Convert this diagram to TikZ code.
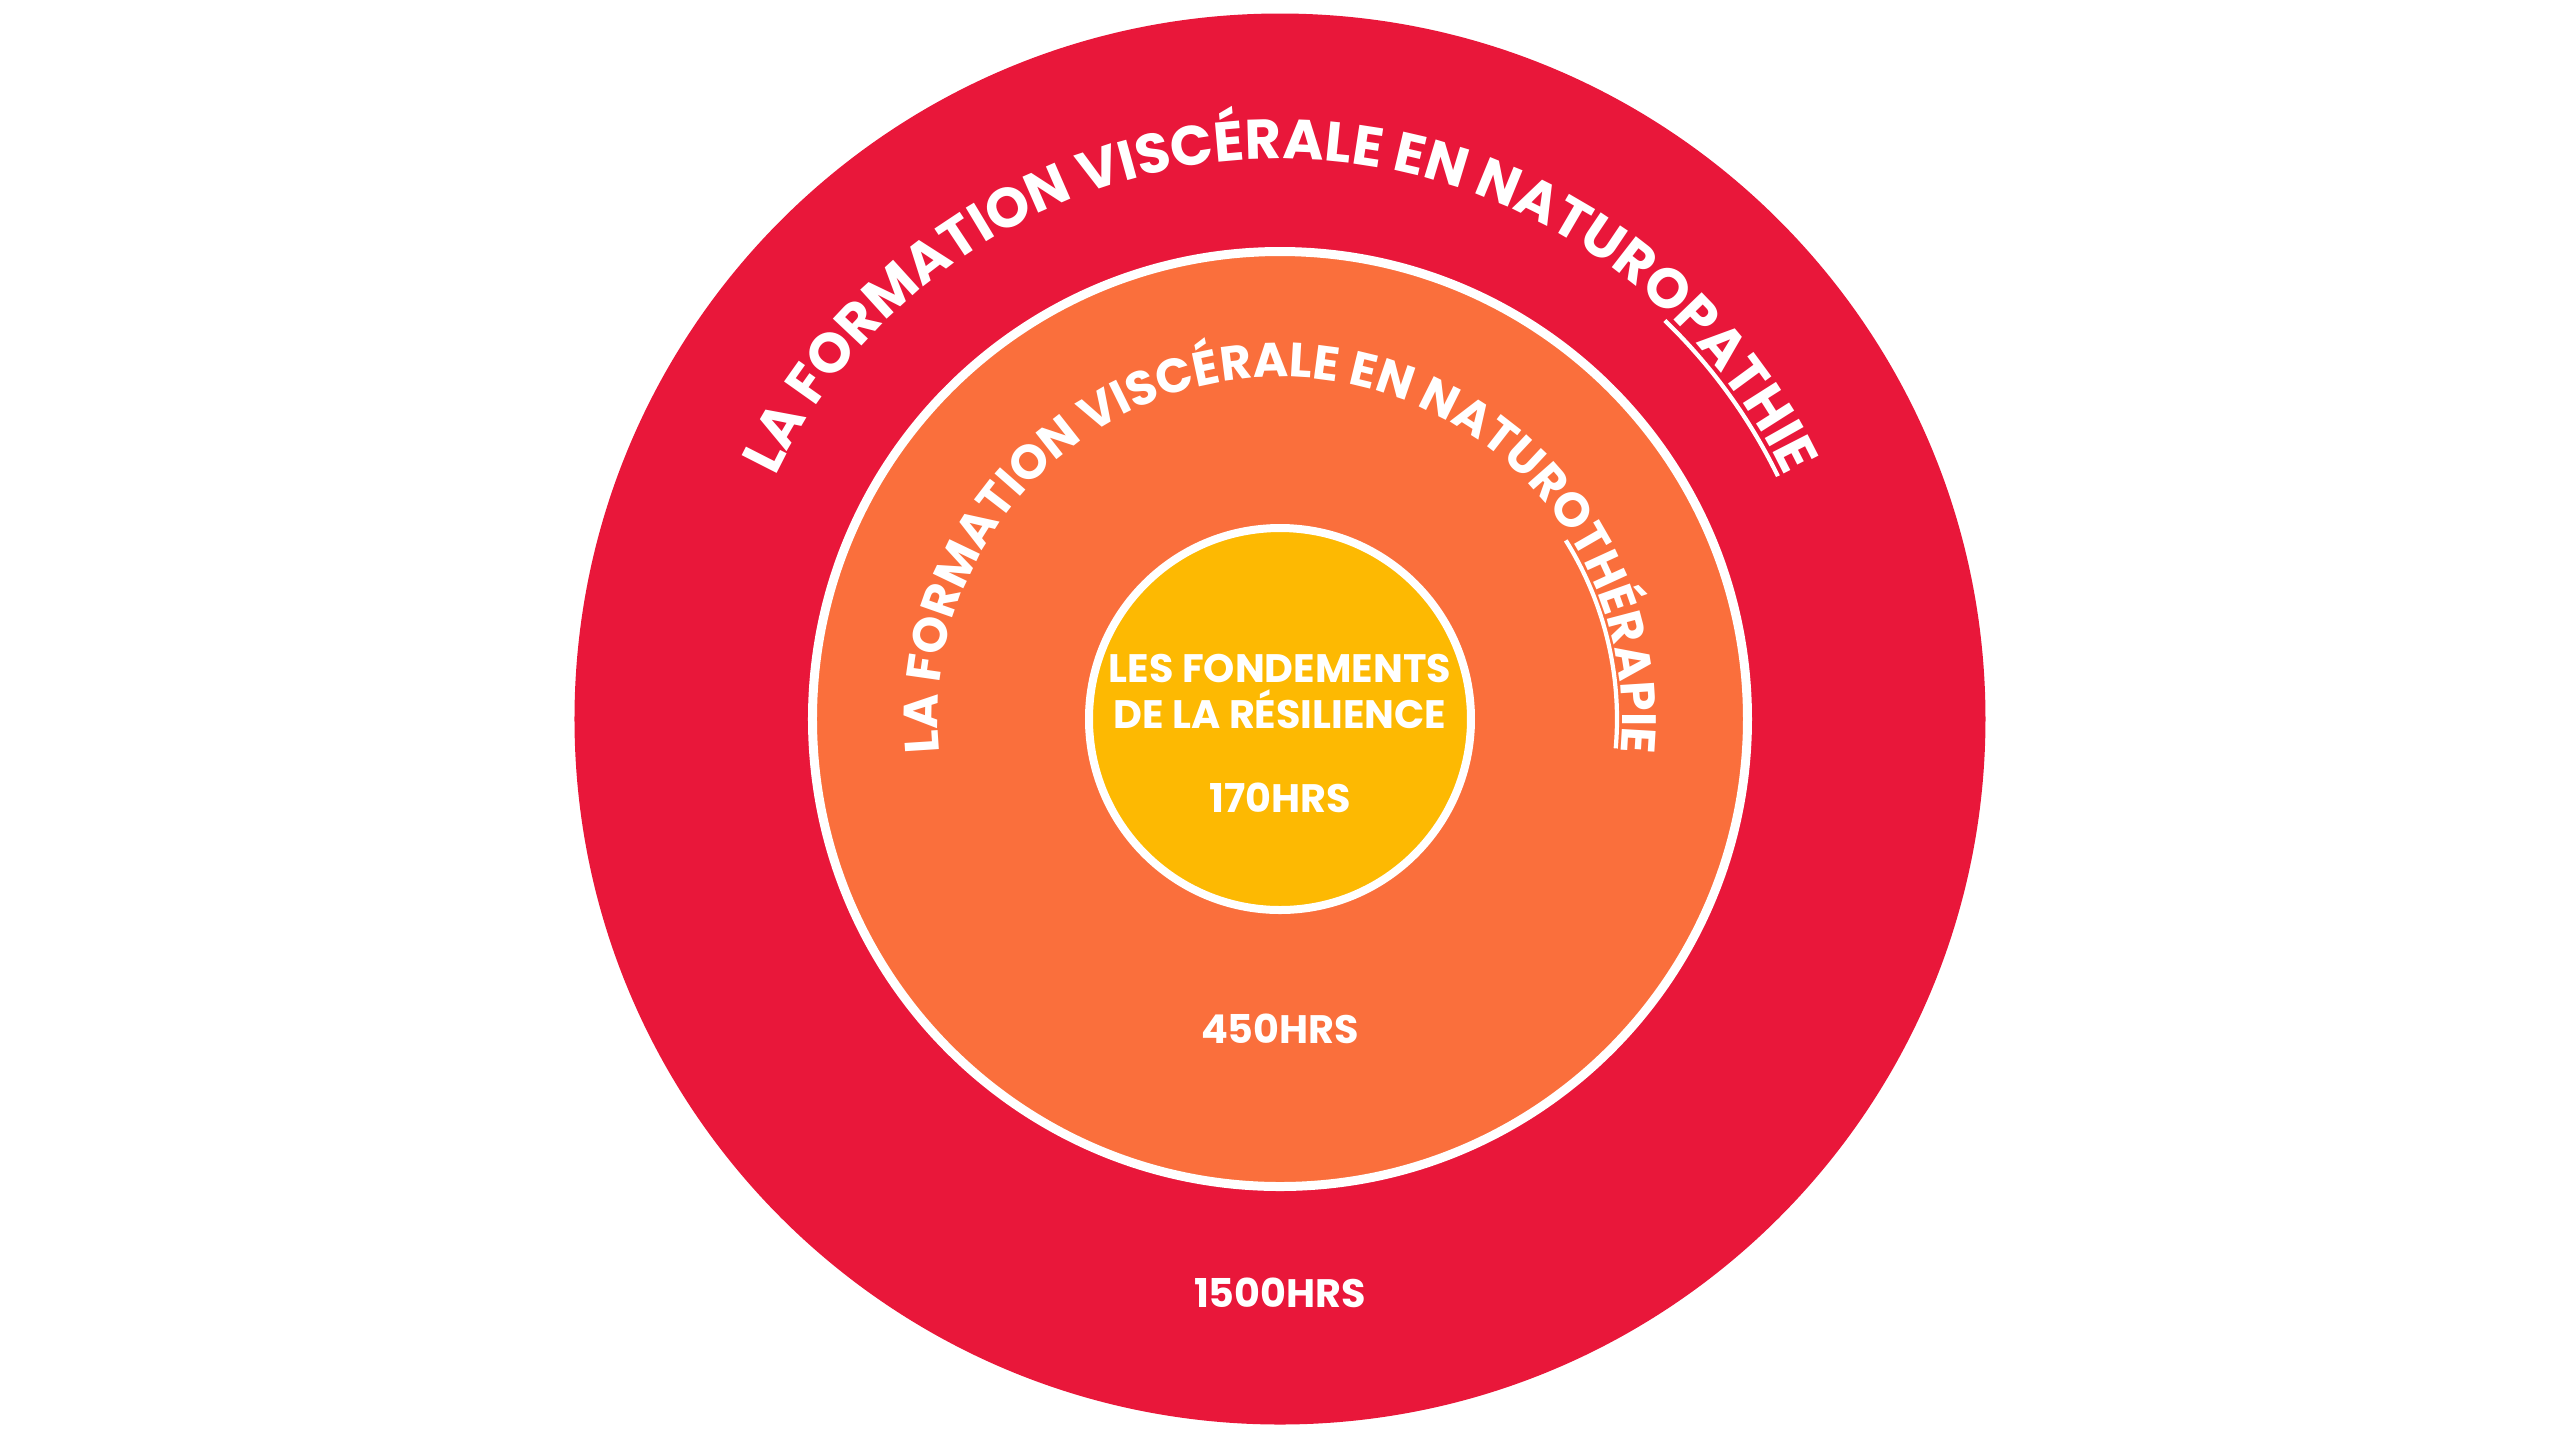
\documentclass[tikz,border=0pt]{standalone}
\usepackage{fontspec}
\setmainfont{Poppins}
\usepackage{tikz}
\usetikzlibrary{decorations.text}

\definecolor{rougeext}{HTML}{E9173A}
\definecolor{orangemid}{HTML}{FA6F3C}
\definecolor{jaunecentre}{HTML}{FDB902}

\begin{document}
\begin{tikzpicture}[
  heures/.style={white, font=\bfseries\fontsize{11.3}{13}\selectfont, anchor=base},
  bord/.style={white, line width=0.09cm}
]

\useasboundingbox (-12.8,-7.20) rectangle (12.8,7.19);

% cercles
\coordinate (C) at (0,0);
\fill[rougeext] (C) circle (7.055);
\draw[bord, fill=orangemid] (C) circle (4.675);
\draw[bord, line width=0.08cm, fill=jaunecentre] (C) circle (1.91);

% texte sur l'anneau rouge
\path[decorate, decoration={text along path, text align=center, text color=white,
  text={|\bfseries\fontsize{15.9}{18}\selectfont|LA FORMATION VISCÉRALE EN NATUROPATHIE}}]
  (200:5.60) arc (200:-20:5.60);
\draw[white, line width=1.2pt] (46:5.54) arc (46:26:5.54);

% texte sur l'anneau orange
\path[decorate, decoration={text along path, text align=center, text color=white,
  text={|\bfseries\fontsize{13.7}{16}\selectfont|LA FORMATION VISCÉRALE EN NATUROTHÉRAPIE}}]
  (200:3.42) arc (200:-20:3.42);
\draw[white, line width=1.2pt] (32:3.37) arc (32:-5:3.37);

% textes du centre
\node[heures] (fond) at (0,0.37) {LES FONDEMENTS};
\node[heures] (resil) at (0,-0.09) {DE LA RÉSILIENCE};
\node[heures] (h170) at (0,-0.93) {170HRS};
\node[heures] (h450) at (0,-3.24) {450HRS};
\node[heures] (h1500) at (0,-5.88) {1500HRS};

\end{tikzpicture}
\end{document}
